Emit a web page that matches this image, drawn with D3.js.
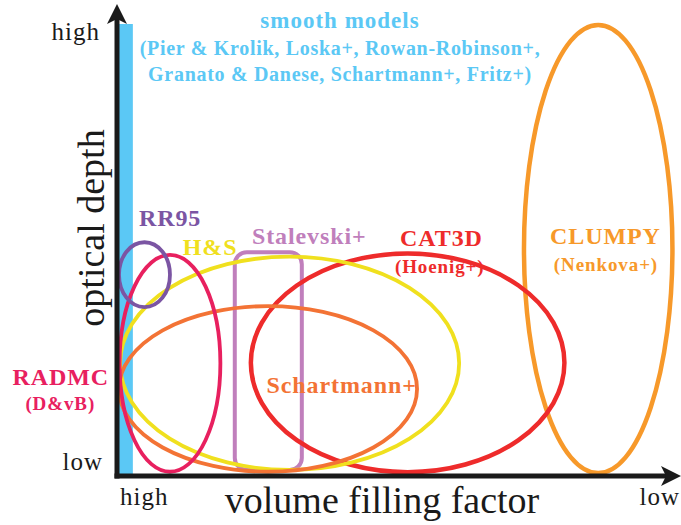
<!DOCTYPE html>
<html>
<head>
<meta charset="utf-8">
<style>
  body { margin: 0; background: #ffffff; }
</style>
<script src="https://d3js.org/d3.v7.min.js"></script>
</head>
<body>
<div id="chart"></div>
<script>
// model regions in data units (x: volume filling factor, 0 = high .. 10 = low;
// y: optical depth, 0 = low .. 10 = high)
var ellipseNames = ["CLUMPY", "CAT3D", "H&S", "Schartmann+", "RADMC", "RR95"];
var ellipseCx = [8.65, 5.21, 3.08, 2.69, 0.92, 0.46];
var ellipseCy = [5.00, 2.47, 2.46, 1.89, 2.46, 4.43];
var ellipseRx = [1.34, 2.83, 3.06, 2.69, 0.91, 0.46];
var ellipseRy = [4.98, 2.43, 2.37, 1.84, 2.41, 0.72];
var ellipseColors = ["#f7992a", "#ee2b2b", "#f0e01e", "#f37335", "#e8205f", "#7b55a3"];

var smoothBar = { x0: 0, x1: 0.25, y0: 0, y1: 10 };
var stalevskiBox = { x0: 2.09, x1: 3.30, y0: 0.09, y1: 4.93 };

var labelText = ["RR95", "H&S", "Stalevski+", "CAT3D", "(Hoenig+)", "CLUMPY", "(Nenkova+)",
                 "RADMC", "(D&vB)", "Schartmann+"];
var labelX = [0.36, 1.15, 2.40, 5.82, 5.79, 8.78, 8.79, -1.05, -1.06, 4.02];
var labelY = [5.51, 4.87, 5.11, 5.07, 4.47, 5.11, 4.52, 1.98, 1.42, 1.80];
var labelSize = [24, 24, 24, 24, 19, 24, 19, 24, 19, 24];
var labelAnchor = ["start", "start", "start", "middle", "middle", "middle", "middle", "middle", "middle", "middle"];
var labelColors = ["#7b55a3", "#f0e01e", "#c07fbc", "#ee2b2b", "#ee2b2b", "#f7992a", "#f7992a",
                   "#e8205f", "#e8205f", "#f37335"];

var smoothLines = ["smooth models", "(Pier & Krolik, Loska+, Rowan-Robinson+,",
                   "Granato & Danese, Schartmann+, Fritz+)"];

var serif = "'Liberation Serif', serif";
var width = 681, height = 525;

var x = d3.scaleLinear().domain([0, 10]).range([119, 673]);
var y = d3.scaleLinear().domain([0, 10]).range([474, 24]);

var svg = d3.select("#chart").append("svg")
    .attr("width", width)
    .attr("height", height);

// blue bar for smooth models
svg.append("rect")
    .attr("x", x(smoothBar.x0))
    .attr("y", y(smoothBar.y1))
    .attr("width", x(smoothBar.x1) - x(smoothBar.x0))
    .attr("height", y(smoothBar.y0) - y(smoothBar.y1))
    .style("fill", "#5bc8f5");

// Stalevski box
svg.append("rect")
    .attr("x", x(stalevskiBox.x0))
    .attr("y", y(stalevskiBox.y1))
    .attr("width", x(stalevskiBox.x1) - x(stalevskiBox.x0))
    .attr("height", y(stalevskiBox.y0) - y(stalevskiBox.y1))
    .attr("rx", 12)
    .style("fill", "none")
    .style("stroke", "#c07fbc")
    .style("stroke-width", 4);

var ell = ellipseNames.map(function(n, i) {
    return { name: n, cx: ellipseCx[i], cy: ellipseCy[i], rx: ellipseRx[i], ry: ellipseRy[i], color: ellipseColors[i] };
});

svg.selectAll("ellipse")
    .data(ell)
    .enter()
    .append("ellipse")
    .attr("cx", function(d) { return x(d.cx); })
    .attr("cy", function(d) { return y(d.cy); })
    .attr("rx", function(d) { return x(d.rx) - x(0); })
    .attr("ry", function(d) { return y(0) - y(d.ry); })
    .style("fill", "none")
    .style("stroke", function(d) { return d.color; })
    .style("stroke-width", function(d) { return (d.name == "CLUMPY" || d.name == "CAT3D") ? 4.5 : 3.8; });

// axes with arrow heads
svg.append("line")
    .attr("x1", 117).attr("y1", 478.5)
    .attr("x2", 117).attr("y2", 18)
    .style("stroke", "#1a1a1a").style("stroke-width", 5);
svg.append("path")
    .attr("d", "M117,4 L127,24 L117,19 L107,24 Z")
    .style("fill", "#1a1a1a");
svg.append("line")
    .attr("x1", 114.5).attr("y1", 476)
    .attr("x2", 666).attr("y2", 476)
    .style("stroke", "#1a1a1a").style("stroke-width", 5);
svg.append("path")
    .attr("d", "M681,476 L661,466 L666,476 L661,486 Z")
    .style("fill", "#1a1a1a");

// smooth models text
svg.selectAll(".smooth")
    .data(smoothLines)
    .enter()
    .append("text")
    .attr("class", "smooth")
    .attr("x", 340)
    .attr("y", function(d, i) { return [28, 55, 81][i]; })
    .attr("text-anchor", "middle")
    .style("font-family", serif)
    .style("font-weight", "bold")
    .style("font-size", function(d, i) { return i == 0 ? "23px" : "20px"; })
    .style("letter-spacing", function(d, i) { return i == 0 ? "1px" : "0.7px"; })
    .style("fill", "#5bc8f5")
    .text(function(d) { return d; });

// model labels
svg.selectAll(".model")
    .data(labelText)
    .enter()
    .append("text")
    .attr("class", "model")
    .attr("x", function(d, i) { return x(labelX[i]); })
    .attr("y", function(d, i) { return y(labelY[i]); })
    .attr("text-anchor", function(d, i) { return labelAnchor[i]; })
    .style("font-family", serif)
    .style("font-weight", "bold")
    .style("font-size", function(d, i) { return labelSize[i] + "px"; })
    .style("letter-spacing", "0.9px")
    .style("fill", function(d, i) { return labelColors[i]; })
    .text(function(d) { return d; });

// axis end labels
svg.append("text").attr("x", 100).attr("y", 40).attr("text-anchor", "end")
    .style("font-family", serif).style("letter-spacing", "1px")
    .style("font-size", "25px").style("fill", "#1a1a1a").text("high");
svg.append("text").attr("x", 103).attr("y", 470).attr("text-anchor", "end")
    .style("font-family", serif).style("letter-spacing", "1px")
    .style("font-size", "25px").style("fill", "#1a1a1a").text("low");
svg.append("text").attr("x", 120).attr("y", 505)
    .style("font-family", serif).style("letter-spacing", "1px")
    .style("font-size", "25px").style("fill", "#1a1a1a").text("high");
svg.append("text").attr("x", 680).attr("y", 505).attr("text-anchor", "end")
    .style("font-family", serif).style("letter-spacing", "1px")
    .style("font-size", "25px").style("fill", "#1a1a1a").text("low");

svg.append("text")
    .attr("x", 382).attr("y", 513)
    .attr("text-anchor", "middle")
    .style("font-family", serif)
    .style("font-size", "38px").style("fill", "#1a1a1a")
    .text("volume filling factor");

svg.append("text")
    .attr("transform", "translate(104,228) rotate(-90)")
    .attr("text-anchor", "middle")
    .style("font-family", serif)
    .style("font-size", "38px").style("fill", "#1a1a1a")
    .text("optical depth");
</script>
</body>
</html>
